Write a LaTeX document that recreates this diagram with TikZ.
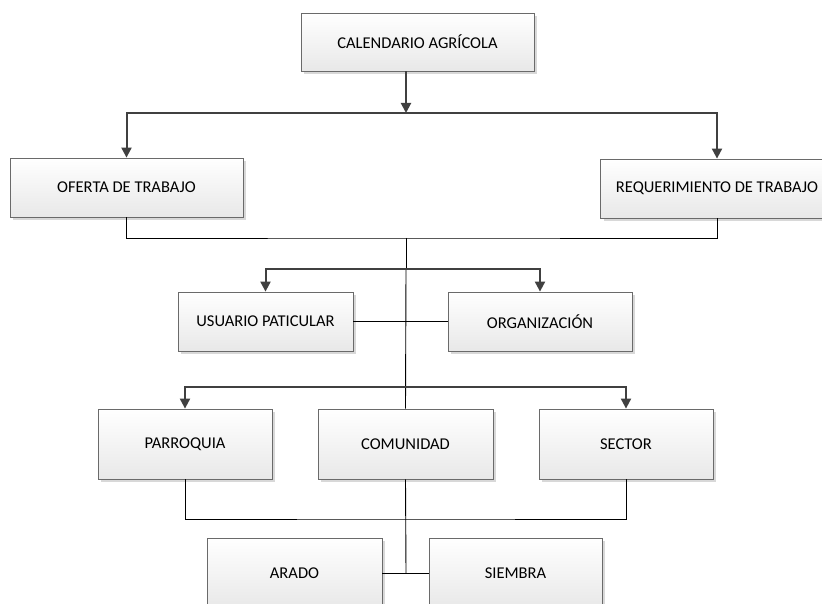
\documentclass[tikz,border=0pt]{standalone}
\usepackage{fontspec}
\setmainfont{Carlito}
\usepackage{tikz}
\usetikzlibrary{arrows.meta,shadows}

\definecolor{boxline}{HTML}{6A6A6A}
\definecolor{arrowgray}{HTML}{404040}

\begin{document}
\begin{tikzpicture}[
  x=1pt, y=-1pt,
  font=\fontsize{16.5}{18}\selectfont,
  box/.style={draw=boxline, line width=0.8pt, top color=white, bottom color=black!9,
    inner sep=0pt, align=center, minimum width=175pt, minimum height=59pt,
    drop shadow={shadow xshift=3pt, shadow yshift=-3pt, fill=black!30, opacity=0.5}},
  tall/.style={box, minimum height=70pt},
  arrow/.style={draw=arrowgray, line width=2pt, -{Triangle[length=10pt,width=10pt]}},
  link/.style={draw=black, line width=0.9pt}
]
\clip (0,0) rectangle (822,604);
\fill[white] (0,0) rectangle (822,604);

% boxes
\node[box, minimum width=233pt, minimum height=58pt] (cal) at (417.5,42) {CALENDARIO AGRÍCOLA};
\node[box, minimum width=233pt] (oferta) at (126.5,187.5) {OFERTA DE TRABAJO};
\node[box, minimum width=233pt] (req) at (717,188.5) {REQUERIMIENTO DE TRABAJO};
\node[box] (usuario) at (265.5,321.5) {USUARIO PATICULAR};
\node[box, minimum width=184pt] (org) at (540,321.5) {ORGANIZACIÓN};
\node[tall, minimum width=174pt] (parroquia) at (185,444) {PARROQUIA};
\node[tall] (comunidad) at (405.5,444) {COMUNIDAD};
\node[tall, minimum width=174pt] (sector) at (626,444) {SECTOR};
\node[tall] (arado) at (294.5,573) {ARADO};
\node[tall, minimum width=173pt] (siembra) at (515.5,573) {SIEMBRA};

% junctions on the trunk
\coordinate (j1) at (406,113);
\coordinate (j2) at (406,238);
\coordinate (j3) at (406,269);
\coordinate (j4) at (406,387);
\coordinate (j5) at (406,519);
\coordinate (j6) at (406,573);

% connectors
\draw[link] (oferta.south) |- (j2) -| (req.south);
\draw[link] (j2) -- (j3);
\draw[link] (usuario) -- (org);
\draw[link] (j3) -- (comunidad.north);
\draw[link] (parroquia.south) |- (j5) -| (sector.south);
\draw[link] (comunidad.south) -- (j6);
\draw[link] (arado) -- (siembra);

\draw[arrow] (cal.south -| j1) -- (j1);
\draw[arrow] (j1) -| (oferta.north);
\draw[arrow] (j1) -| (req.north);
\draw[arrow] (j3) -| (usuario.north);
\draw[arrow] (j3) -| (org.north);
\draw[arrow] (j4) -| (parroquia.north);
\draw[arrow] (j4) -| (sector.north);
\end{tikzpicture}
\end{document}
